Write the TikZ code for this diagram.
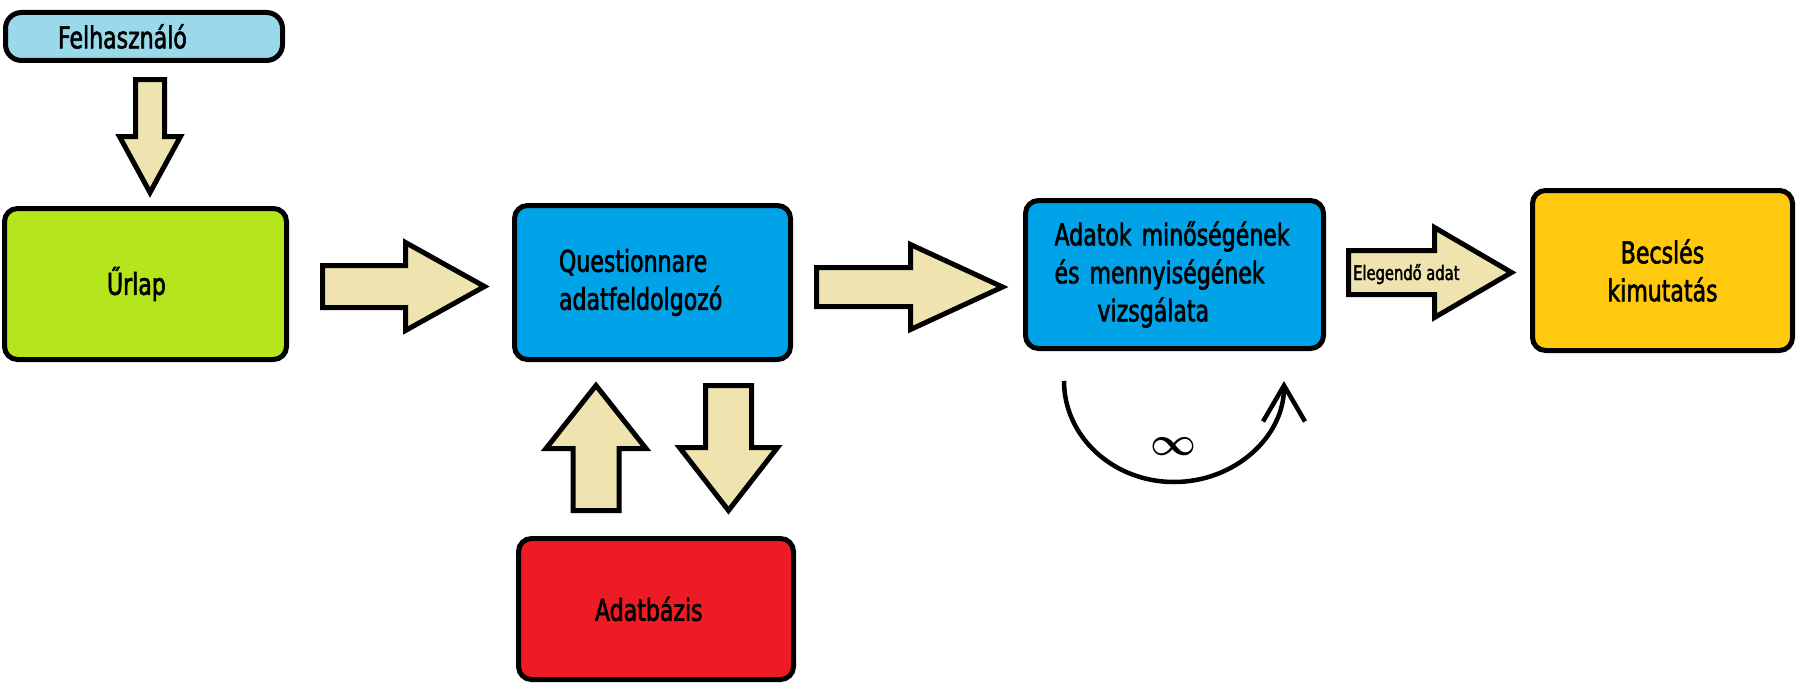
\RequirePackage{fix-cm}
\documentclass[tikz,border=0pt]{standalone}
\usepackage{fontspec}
\setmainfont{DejaVu Sans}[FakeStretch=0.735, FakeBold=2]
\usetikzlibrary{arrows.meta}
\definecolor{felhblue}{HTML}{99D9EA}
\definecolor{urlapgreen}{HTML}{B5E61D}
\definecolor{procblue}{HTML}{00A2E8}
\definecolor{dbred}{HTML}{ED1C24}
\definecolor{estyellow}{HTML}{FFC90E}
\definecolor{arrowtan}{HTML}{EFE4B0}
\newcommand{\boxfont}{\fontsize{30}{38}\selectfont}
\newcommand{\smallfont}{\fontsize{20}{24}\selectfont}
\tikzset{
	box/.style = {draw, line width=5pt, rounded corners=13pt, font=\boxfont, inner sep=0pt, align=left},
	arrbody/.style = {draw, line width=5pt, fill=arrowtan, line join=miter},
	pics/blockarrow/.style n args = {4}{code={
		\draw[arrbody] (0,-#2) -- (#1-#4,-#2) -- (#1-#4,-#3) -- (#1,0) -- (#1-#4,#3) -- (#1-#4,#2) -- (0,#2) -- cycle;
	}},
}
\begin{document}
\begin{tikzpicture}[x=1pt, y=-1pt]
		\useasboundingbox (0,0) rectangle (1803,693);
		% boxes
		\node[box, fill=felhblue, rounded corners=16pt, minimum width=277pt, minimum height=48pt, text width=172pt] (felh) at (144,36.5) {Felhasználó};
		\node[box, fill=urlapgreen, minimum width=282pt, minimum height=151pt, text width=77pt] (urlap) at (145.5,284) {Űrlap};
		\node[box, fill=procblue, minimum width=276pt, minimum height=154pt, text width=187pt] (quest) at (652.5,282.5) {Questionnare\\adatfeldolgozó};
		\node[box, fill=procblue, minimum width=298pt, minimum height=148pt, text width=240pt] (adatok) at (1174.5,274.5) {Adatok minőségének\\és mennyiségének\\\hspace*{43pt}vizsgálata};
		\node[box, fill=estyellow, minimum width=260pt, minimum height=160pt, align=center] (becsles) at (1662.5,270.5) {Becslés\\kimutatás};
		\node[box, fill=dbred, minimum width=275pt, minimum height=141pt, text width=122pt] (adatbazis) at (656,609) {Adatbázis};
		% block arrows
		\pic[rotate=-90] (felh2urlap) at (150,79.5) {blockarrow={113}{14.5}{30.5}{56}};
		\pic (urlap2quest) at (322.5,286.5) {blockarrow={162}{21}{44}{79}};
		\pic (quest2adatok) at (816.5,287) {blockarrow={186}{19.5}{42.5}{92}};
		\pic (adatok2becsles) at (1348.5,272.5) {blockarrow={163}{22}{45}{77}};
		\pic[rotate=90] (db2quest) at (596,510.5) {blockarrow={125}{23}{50}{63}};
		\pic[rotate=-90] (quest2db) at (728.5,385.5) {blockarrow={125}{23}{49}{63}};
		\node[font=\smallfont, inner sep=0pt, anchor=base west] (elegendo) at (1353,280) {Elegendő adat};
		% loop
		\coordinate (loopstart) at (1064,381);
		\draw[line width=4.5pt, -{Straight Barb[length=36pt, width=42pt, sharp]}] (loopstart) arc[start angle=180, end angle=360, x radius=110pt, y radius=101pt];
		\node[font=\fontsize{40}{42}\selectfont\boldmath, inner sep=0pt] (inf) at (1173,447) {$\infty$};
\end{tikzpicture}
\end{document}
